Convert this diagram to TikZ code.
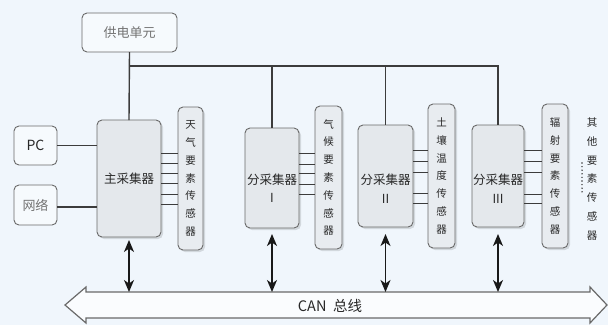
\documentclass[tikz,border=0pt]{standalone}
\usepackage{fontspec}
\setmainfont{Noto Sans CJK SC}
\usetikzlibrary{arrows.meta,shadows}
\definecolor{bg}{RGB}{240,246,252}
\definecolor{boxline}{RGB}{105,105,105}
\definecolor{boxfill}{RGB}{228,232,236}
\definecolor{sensfill}{RGB}{232,236,240}
\definecolor{wire}{RGB}{60,60,60}
\definecolor{txt}{RGB}{40,40,40}
\definecolor{ltxt}{RGB}{115,115,115}
\begin{document}
\begin{tikzpicture}[x=1pt,y=-1pt,
  every node/.style={inner sep=0pt, outer sep=0pt},
  box/.style={draw=boxline, line width=0.9pt, rounded corners=5pt},
  soft/.style={general shadow={fill=black, opacity=0.12, shadow xshift=2pt, shadow yshift=-2pt}},
  collector/.style={box, fill=boxfill, soft},
  sensor/.style={box, fill=sensfill, soft, text=txt, align=center,
    font=\fontsize{10.5}{17.8}\selectfont},
  plain/.style={box, fill=bg!60!white},
  coltext/.style={text=txt, align=center, font=\fontsize{12.5}{18.5}\selectfont},
  wireline/.style={draw=wire, line width=1.4pt},
  sline/.style={draw=wire, line width=1pt},
  dbl/.style={draw=black!90, line width=1.5pt,
    {Stealth[length=12pt,width=10pt,inset=3.5pt]}-{Stealth[length=12pt,width=10pt,inset=3.5pt]}}
]
\path[fill=bg] (0,0) rectangle (608,325);
\useasboundingbox (0,0) rectangle (608,325);

% power unit, PC, network
\node[plain, minimum width=95pt, minimum height=39pt, text=ltxt,
  font=\fontsize{13}{15}\selectfont] (pw) at (129.5,32.5) {供电单元};
\node[plain, minimum width=43pt, minimum height=39pt, text=txt,
  font=\fontsize{14}{16}\selectfont] (pc) at (35.5,145.5) {PC};
\node[plain, minimum width=43pt, minimum height=40pt, text=ltxt,
  font=\fontsize{13}{15}\selectfont] (net) at (35.5,205) {网络};

% collectors
\node[collector, minimum width=64pt, minimum height=117pt] (main) at (129,178.5) {};
\node[coltext] (t0) at (main.center) {主采集器};
\node[collector, minimum width=54pt, minimum height=100pt] (s1) at (272,178) {};
\node[coltext] (t1) at (272,188) {分采集器\\I};
\node[collector, minimum width=55pt, minimum height=102pt] (s2) at (385.5,176) {};
\node[coltext] (t2) at (385.5,188.5) {分采集器\\II};
\node[collector, minimum width=52pt, minimum height=102pt] (s3) at (498,176) {};
\node[coltext] (t3) at (498,188.5) {分采集器\\III};

% sensors
\node[sensor, minimum width=25pt, minimum height=143pt] (n0) at (190.5,178.5) {天\\气\\要\\素\\传\\感\\器};
\node[sensor, minimum width=27pt, minimum height=143pt] (n1) at (328.5,177.5) {气\\候\\要\\素\\传\\感\\器};
\node[sensor, minimum width=27pt, minimum height=144pt] (n2) at (441.5,176) {土\\壤\\温\\度\\传\\感\\器};
\node[sensor, minimum width=26pt, minimum height=144pt] (n3) at (555,176) {辐\\射\\要\\素\\传\\感\\器};

% other sensors
\node[text=txt, align=center, font=\fontsize{10.5}{18.7}\selectfont] (other) at (592,179) {其\\他\\要\\素\\传\\感\\器};
\coordinate (dtop) at (582,163);
\coordinate (dbot) at (582,195);
\draw[draw=wire, line width=1.6pt, line cap=round, dash pattern=on 0pt off 3.6pt] (dtop) -- (dbot);

% sensor links
\foreach \y in {153,163,173,183,194,204} \draw[sline] (main.east |- 0,\y) -- (n0.west |- 0,\y);
\foreach \y in {153,164,173,184,194} \draw[sline] (s1.east |- 0,\y) -- (n1.west |- 0,\y);
\foreach \y in {150,161,172,193,203} \draw[sline] (s2.east |- 0,\y) -- (n2.west |- 0,\y);
\foreach \y in {150,161,172,194,203} \draw[sline] (s3.east |- 0,\y) -- (n3.west |- 0,\y);

% PC / network
\draw[wireline] (pc.east) -- (pc.east -| main.west);
\draw[wireline] (net.east |- 0,207) -- (main.west |- 0,207);

% power distribution
\coordinate (j0) at (129.5,66);
\draw[wireline] (pw.south) -- (main.north);
\draw[wireline] (j0) -- (j0 -| s3.north) -- (s3.north);
\draw[wireline] (j0 -| s1.north) -- (s1.north);
\draw[wireline] (j0 -| s2.north) -- (s2.north);

% CAN bus
\draw[draw=boxline, line width=1.2pt, fill=white!70!bg, line join=miter]
  (65,305) -- (86,287) -- (86,292) -- (590,292) -- (590,287) -- (607,305)
  -- (590,323) -- (590,318) -- (86,318) -- (86,323) -- cycle;
\coordinate (bustop) at (0,292);
\node[text=txt, font=\fontsize{14.5}{16}\selectfont] (can) at (330,306) {CAN\ \ 总线};

\draw[dbl] ([yshift=-3pt]main.south) -- (main.south |- bustop);
\draw[dbl] ([yshift=-6pt]s1.south) -- (s1.south |- bustop);
\draw[dbl] ([yshift=-7pt]s2.south) -- (s2.south |- bustop);
\draw[dbl] ([yshift=-7pt]s3.south) -- (s3.south |- bustop);
\end{tikzpicture}
\end{document}
